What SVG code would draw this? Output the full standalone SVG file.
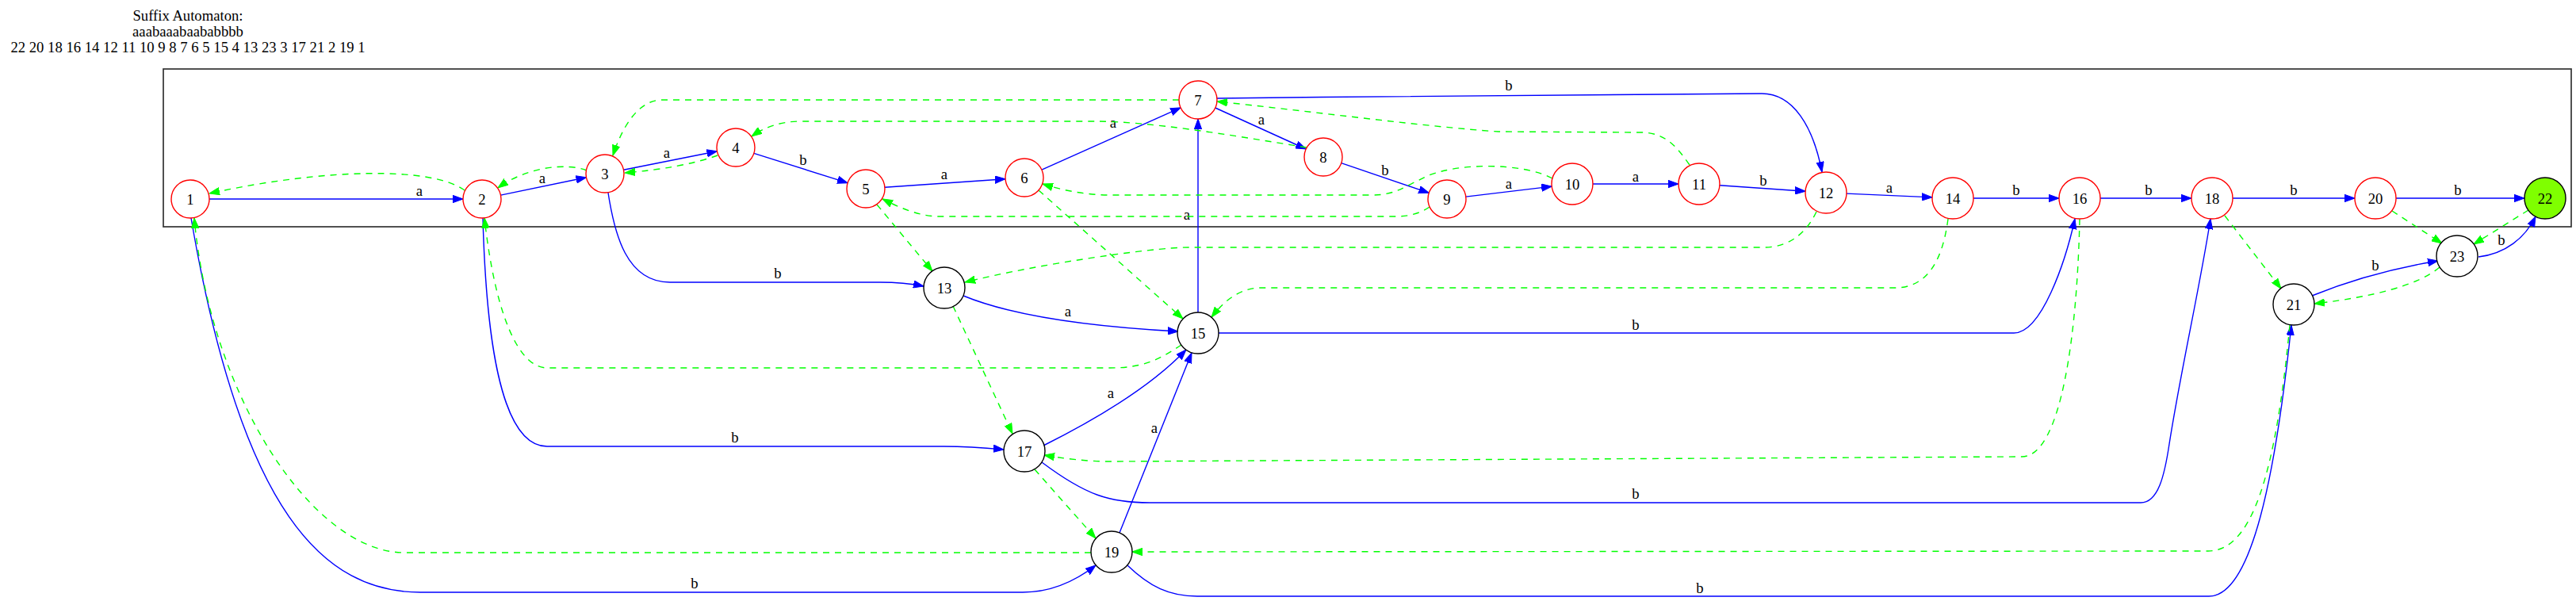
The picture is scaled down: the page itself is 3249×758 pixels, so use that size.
<svg xmlns="http://www.w3.org/2000/svg" width="3249" height="758" viewBox="0 0 3249 758">
<style>
text{font-family:"Liberation Serif","Times New Roman",serif;font-size:18.67px;fill:#000}
.t{text-anchor:middle}
.n circle{fill:#fff;stroke:#ff0000;stroke-width:1.4}
.n.k circle{stroke:#000}
.n.f circle{fill:#7fff00;stroke:#000}
.n text{text-anchor:middle}
.tr{fill:none;stroke:#0000ff;stroke-width:1.4;marker-end:url(#ab)}
.sl{fill:none;stroke:#00ff00;stroke-width:1.4;stroke-dasharray:8,7;marker-end:url(#ag)}
.lb{text-anchor:middle}
</style>
<defs>
<marker id="ab" markerUnits="userSpaceOnUse" markerWidth="14" markerHeight="10" refX="13" refY="5" orient="auto"><path d="M0,0.3 L13,5 L0,9.7 Z" fill="#0000ff" stroke="#0000ff" stroke-width="1"/></marker>
<marker id="ag" markerUnits="userSpaceOnUse" markerWidth="14" markerHeight="10" refX="13" refY="5" orient="auto"><path d="M0,0.3 L13,5 L0,9.7 Z" fill="#00ff00" stroke="#00ff00" stroke-width="1"/></marker>
</defs>
<rect width="3249" height="758" fill="#fff"/>
<g id="title">
<text class="t" x="237" y="26">Suffix Automaton:</text>
<text class="t" x="237" y="46">aaabaaabaababbbb</text>
<text class="t" x="237" y="66">22 20 18 16 14 12 11 10 9 8 7 6 5 15 4 13 23 3 17 21 2 19 1</text>
</g>
<g id="cluster"><rect x="206" y="87" width="3037" height="199" fill="none" stroke="#333" stroke-width="1.7"/></g>
<g id="edges">
<path class="tr" d="M264,251 L584,251"/><text class="lb" x="529" y="247">a</text>
<path class="tr" d="M631.5,246.1 L739.5,223.8"/><text class="lb" x="684" y="231">a</text>
<path class="tr" d="M786.5,214.3 L904.5,190.7"/><text class="lb" x="841" y="199">a</text>
<path class="tr" d="M950.9,193.3 L1069.1,230.7"/><text class="lb" x="1013" y="208">b</text>
<path class="tr" d="M1115.9,236.3 L1268.1,225.7"/><text class="lb" x="1191" y="226">a</text>
<path class="tr" d="M1313.9,214.2 L1489.1,135.8"/><text class="lb" x="1404" y="161">a</text>
<path class="tr" d="M1532.8,136 L1647.2,188"/><text class="lb" x="1591" y="157">a</text>
<path class="tr" d="M1535,124 C1800,121 2100,118 2222,118 C2262,118 2287,160 2298,217"/><text class="lb" x="1903" y="114">b</text>
<path class="tr" d="M1691.7,205.7 L1802.3,243.3"/><text class="lb" x="1747" y="221">b</text>
<path class="tr" d="M1848.8,248.1 L1957.2,235.1"/><text class="lb" x="1903" y="238">a</text>
<path class="tr" d="M2009,232 L2117,232"/><text class="lb" x="2063" y="229">a</text>
<path class="tr" d="M2169,233.8 L2277,241.2"/><text class="lb" x="2224" y="234">b</text>
<path class="tr" d="M2329,244.1 L2437,248.9"/><text class="lb" x="2383" y="243">a</text>
<path class="tr" d="M2489,250 L2597,250"/><text class="lb" x="2543" y="246">b</text>
<path class="tr" d="M2649,250 L2764,250"/><text class="lb" x="2710" y="246">b</text>
<path class="tr" d="M2816,250 L2970,250"/><text class="lb" x="2893" y="246">b</text>
<path class="tr" d="M3022,250 L3184,250"/><text class="lb" x="3100" y="246">b</text>
<path class="tr" d="M767,243 C775,295 790,356 845,356 L1110,356 C1135,356 1150,358 1165,361"/><text class="lb" x="981" y="351">b</text>
<path class="tr" d="M1215,373 Q1300,408 1486,418"/><text class="lb" x="1347" y="399">a</text>
<path class="tr" d="M1511,394 L1511,150"/><text class="lb" x="1497" y="277">a</text>
<path class="tr" d="M1537,420 L2540,420 C2575,420 2605,330 2617,276"/><text class="lb" x="2063" y="416">b</text>
<path class="tr" d="M609,275 C613,420 630,563 690,563 L1190,563 C1225,563 1245,565 1266,567"/><text class="lb" x="927" y="558">b</text>
<path class="tr" d="M1316,562 Q1440,500 1496,441"/><text class="lb" x="1401" y="502">a</text>
<path class="tr" d="M1314,583 C1370,625 1400,634 1450,634 L2700,634 C2722,634 2730,600 2736,560 C2750,470 2775,360 2788,276"/><text class="lb" x="2063" y="629">b</text>
<path class="tr" d="M1412,672 L1503,445"/><text class="lb" x="1456" y="546">a</text>
<path class="tr" d="M241,275 C305,650 410,747 530,747 L1290,747 C1330,747 1360,730 1382,713"/><text class="lb" x="876" y="742">b</text>
<path class="tr" d="M1422,713 C1450,740 1475,752 1510,752 L2786,752 C2840,752 2870,600 2890,410"/><text class="lb" x="2144" y="748">b</text>
<path class="tr" d="M2916,373 Q2990,343 3075,329"/><text class="lb" x="2996" y="341">b</text>
<path class="tr" d="M3126,324 C3160,320 3185,300 3198,273"/><text class="lb" x="3155" y="309">b</text>
<path class="sl" d="M586,240 C545,210 410,212 264,244"/>
<path class="sl" d="M740,215 C715,205 665,210 628,237"/>
<path class="sl" d="M905,196 Q860,212 788,218"/>
<path class="sl" d="M1487,126 L835,126 C805,126 785,160 773,196"/>
<path class="sl" d="M1648,186 C1550,170 1450,153 1380,153 L1010,153 C985,153 965,160 948,172"/>
<path class="sl" d="M2131,208 C2115,185 2100,167 2070,167 L1890,166 C1800,160 1650,140 1535,128"/>
<path class="sl" d="M1958,225 C1920,205 1840,205 1800,222 C1770,236 1760,246 1730,246 L1400,246 C1370,246 1340,240 1315,232"/>
<path class="sl" d="M1803,261 C1790,270 1775,273 1760,273 L1185,273 C1160,273 1135,262 1113,251"/>
<path class="sl" d="M1106,258 L1176,342"/>
<path class="sl" d="M1310,240 L1492,402"/>
<path class="sl" d="M2291,267 C2280,290 2260,312 2225,312 L1500,312 C1450,312 1300,335 1217,356"/>
<path class="sl" d="M2457,276 C2450,330 2430,363 2390,363 L1590,363 C1565,363 1545,378 1528,400"/>
<path class="sl" d="M1490,435 C1460,455 1440,464 1400,464 L690,464 C655,464 625,400 611,275"/>
<path class="sl" d="M2623,276 C2620,420 2600,576 2550,576 L1400,582 C1370,582 1340,578 1317,574"/>
<path class="sl" d="M1202,386 L1277,547"/>
<path class="sl" d="M1305,592 L1382,679"/>
<path class="sl" d="M1376,697 L510,697 C395,697 265,500 245,275"/>
<path class="sl" d="M2888,410 C2870,600 2840,695 2785,695 L1428,696"/>
<path class="sl" d="M2806,272 L2877,364"/>
<path class="sl" d="M3017,266 L3080,307"/>
<path class="sl" d="M3189,265 L3120,308"/>
<path class="sl" d="M3077,337 C3050,360 2990,375 2919,383"/>
</g>
<g id="node1" class="n"><circle cx="240" cy="251" r="24"/><text x="240" y="257.5">1</text></g>
<g id="node2" class="n"><circle cx="608" cy="251" r="24"/><text x="608" y="257.5">2</text></g>
<g id="node3" class="n"><circle cx="763" cy="219" r="24"/><text x="763" y="225.5">3</text></g>
<g id="node4" class="n"><circle cx="928" cy="186" r="24"/><text x="928" y="192.5">4</text></g>
<g id="node5" class="n"><circle cx="1092" cy="238" r="24"/><text x="1092" y="244.5">5</text></g>
<g id="node6" class="n"><circle cx="1292" cy="224" r="24"/><text x="1292" y="230.5">6</text></g>
<g id="node7" class="n"><circle cx="1511" cy="126" r="24"/><text x="1511" y="132.5">7</text></g>
<g id="node8" class="n"><circle cx="1669" cy="198" r="24"/><text x="1669" y="204.5">8</text></g>
<g id="node9" class="n"><circle cx="1825" cy="251" r="24"/><text x="1825" y="257.5">9</text></g>
<g id="node10" class="n"><circle cx="1983" cy="232" r="26"/><text x="1983" y="238.5">10</text></g>
<g id="node11" class="n"><circle cx="2143" cy="232" r="26"/><text x="2143" y="238.5">11</text></g>
<g id="node12" class="n"><circle cx="2303" cy="243" r="26"/><text x="2303" y="249.5">12</text></g>
<g id="node14" class="n"><circle cx="2463" cy="250" r="26"/><text x="2463" y="256.5">14</text></g>
<g id="node16" class="n"><circle cx="2623" cy="250" r="26"/><text x="2623" y="256.5">16</text></g>
<g id="node18" class="n"><circle cx="2790" cy="250" r="26"/><text x="2790" y="256.5">18</text></g>
<g id="node20" class="n"><circle cx="2996" cy="250" r="26"/><text x="2996" y="256.5">20</text></g>
<g id="node22" class="n f"><circle cx="3210" cy="250" r="26"/><text x="3210" y="256.5">22</text></g>
<g id="node23" class="n k"><circle cx="3099" cy="323" r="26"/><text x="3099" y="329.5">23</text></g>
<g id="node21" class="n k"><circle cx="2893" cy="384" r="26"/><text x="2893" y="390.5">21</text></g>
<g id="node13" class="n k"><circle cx="1191" cy="363" r="26"/><text x="1191" y="369.5">13</text></g>
<g id="node15" class="n k"><circle cx="1511" cy="420" r="26"/><text x="1511" y="426.5">15</text></g>
<g id="node17" class="n k"><circle cx="1292" cy="569" r="26"/><text x="1292" y="575.5">17</text></g>
<g id="node19" class="n k"><circle cx="1402" cy="696" r="26"/><text x="1402" y="702.5">19</text></g>
</svg>
